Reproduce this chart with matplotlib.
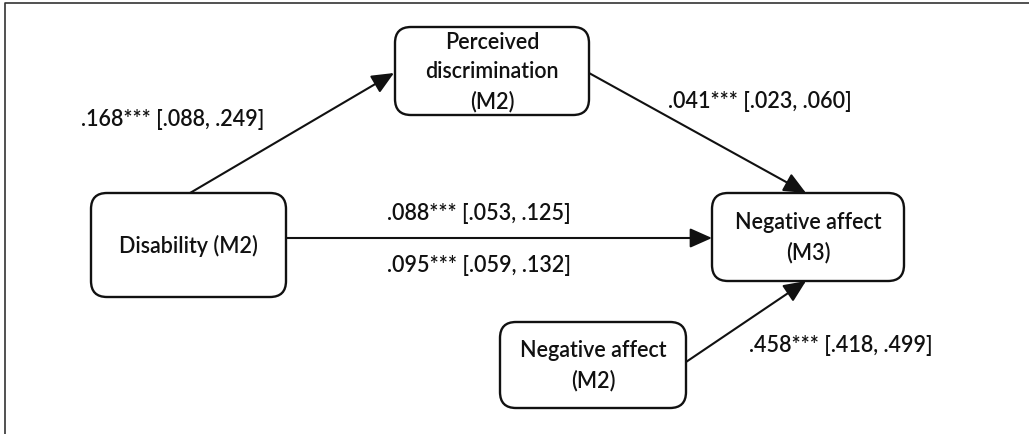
import matplotlib
matplotlib.use("Agg")
import matplotlib.pyplot as plt
import matplotlib.patches as patches

# node labels (path model variables)
node_names = ["disability", "discrimination", "na_m3", "na_m2"]
node_labels = ["Disability (M2)", "Perceived\ndiscrimination\n(M2)",
               "Negative affect\n(M3)", "Negative affect\n(M2)"]

# path coefficients with 95% CI
path_labels = [".168*** [.088, .249]", ".041*** [.023, .060]",
               ".088*** [.053, .125]", ".095*** [.059, .132]",
               ".458*** [.418, .499]"]

# layout in pixel units (x0, y0, x1, y1), origin top-left
boxes = {
    "disability": (91, 193, 286, 297),
    "discrimination": (395, 27, 589, 115),
    "na_m3": (712, 193, 904, 281),
    "na_m2": (500, 322, 686, 408),
}
arrows = [
    ((190, 193), (394, 73)),
    ((589, 73), (806, 193)),
    ((286, 238), (712, 238)),
    ((686, 362), (806, 281)),
]
label_pos = [(173, 119), (760, 101), (479, 213), (479, 266), (841, 346)]

W, H = 1029, 434
fig = plt.figure(figsize=(W / 100, H / 100), dpi=100)
ax = fig.add_axes([0, 0, 1, 1])
ax.set_xlim(0, W)
ax.set_ylim(H, 0)
ax.axis("off")

font = "Lato"
ink = "#111111"
fs = 15.5

# outer frame (only top/left visible in the crop)
ax.plot([5, 5, W], [H, 3, 3], color="#333333", lw=1.2, solid_capstyle="butt")

for name, label in zip(node_names, node_labels):
    x0, y0, x1, y1 = boxes[name]
    ax.add_patch(patches.FancyBboxPatch(
        (x0, y0), x1 - x0, y1 - y0,
        boxstyle="round,pad=0,rounding_size=16",
        linewidth=1.7, edgecolor=ink, facecolor="white", zorder=2))
    ax.text((x0 + x1) / 2, (y0 + y1) / 2 + 1, label, ha="center", va="center",
            fontsize=fs, family=font, weight="semibold", color=ink,
            linespacing=1.5, zorder=3)

for (x0, y0), (x1, y1) in arrows:
    ax.annotate("", xy=(x1, y1), xytext=(x0, y0),
                arrowprops=dict(arrowstyle="-|>,head_length=0.9,head_width=0.4",
                                color=ink, lw=1.5, mutation_scale=15,
                                shrinkA=0, shrinkB=0), zorder=1)

for (x, y), txt in zip(label_pos, path_labels):
    ax.text(x, y, txt, ha="center", va="center", fontsize=fs,
            family=font, weight="semibold", color=ink)

fig.savefig("out.png", dpi=100)
